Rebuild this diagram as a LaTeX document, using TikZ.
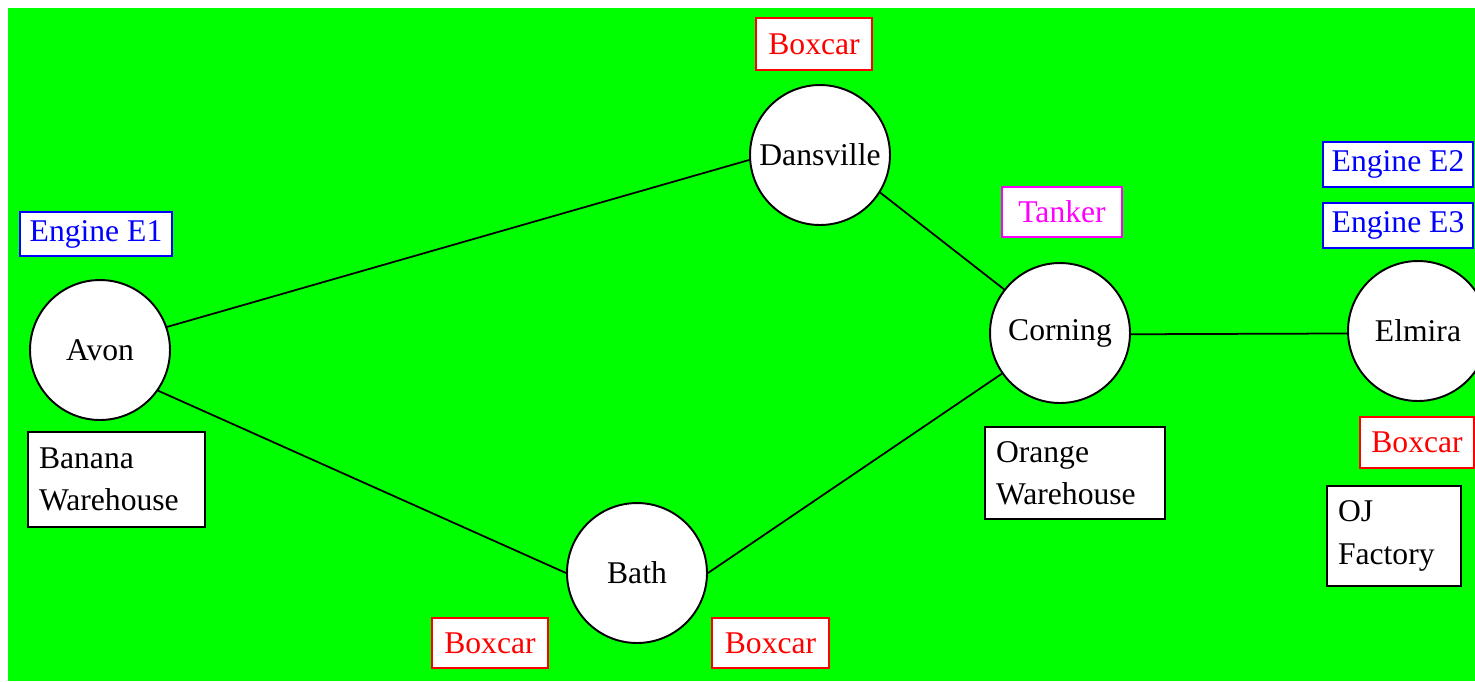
\documentclass[tikz,border=0pt]{standalone}
\usepackage{fontspec}
\setmainfont{Liberation Serif}
\definecolor{field}{RGB}{0,255,0}
\definecolor{tankmag}{RGB}{255,0,255}
\begin{document}
\begin{tikzpicture}[x=0.02cm,y=-0.02cm,
  town/.style={circle,draw=black,fill=white,line width=1.1pt,minimum size=2.8cm,inner sep=0pt,
    font=\fontsize{18}{22}\selectfont},
  tag/.style={rectangle,fill=white,line width=1.2pt,inner sep=0pt,
    font=\fontsize{18}{22}\selectfont},
  carbox/.style={tag,draw=red,text=red},
  enginebox/.style={tag,draw=blue,text=blue},
  placebox/.style={tag,draw=black,align=left,inner xsep=0.2cm,inner ysep=0pt,
    font=\fontsize{18}{24}\selectfont},
  track/.style={line width=1pt,black}]
  \useasboundingbox (0,0) rectangle (1475,681);
  \fill[white] (0,0) rectangle (1475,681);
  \fill[field] (8,8) rectangle (1475,681);

  % stations
  \node[town] (avon) at (100,350) {Avon};
  \node[town] (dansville) at (820,155) {Dansville};
  \node[town] (corning) at (1060,333) {Corning};
  \node[town] (bath) at (637,573) {Bath};
  \node[town] (elmira) at (1418,331) {Elmira};

  % tracks, joined at fixed points on the station rims
  \draw[track] (avon.19) -- (dansville.184);
  \draw[track] (dansville.-32) -- (corning.142);
  \draw[track] (avon.-35) -- (bath.180);
  \draw[track] (bath.0) -- (corning.215);
  \draw[track] (corning.-1.5) -- (elmira.182);

  % rolling stock and industries
  \node[enginebox,minimum width=3.04cm,minimum height=0.88cm] (e1) at (96,234) {Engine E1};
  \node[placebox,minimum width=3.54cm,minimum height=1.9cm,text width=3.1cm] (banana) at (116.5,479.5) {Banana\\Warehouse};
  \node[carbox,minimum width=2.32cm,minimum height=1.04cm] (boxd) at (814,44) {Boxcar};
  \node[tag,draw=tankmag,text=tankmag,minimum width=2.4cm,minimum height=1.0cm] (tanker) at (1062,212) {Tanker};
  \node[enginebox,minimum width=3.0cm,minimum height=0.9cm] (e2) at (1398,164.5) {Engine E2};
  \node[enginebox,minimum width=3.0cm,minimum height=0.9cm] (e3) at (1398,225.5) {Engine E3};
  \node[placebox,minimum width=3.6cm,minimum height=1.84cm,text width=3.16cm] (orange) at (1075,473) {Orange\\Warehouse};
  \node[carbox,minimum width=2.28cm,minimum height=1.02cm] (boxe) at (1417,442.5) {Boxcar};
  \node[placebox,minimum width=2.68cm,minimum height=2.0cm,text width=2.24cm] (oj) at (1394,536) {OJ\\Factory};
  \node[carbox,minimum width=2.32cm,minimum height=1.0cm] (boxbl) at (490,643) {Boxcar};
  \node[carbox,minimum width=2.34cm,minimum height=1.0cm] (boxbr) at (770.5,643) {Boxcar};
\end{tikzpicture}
\end{document}
